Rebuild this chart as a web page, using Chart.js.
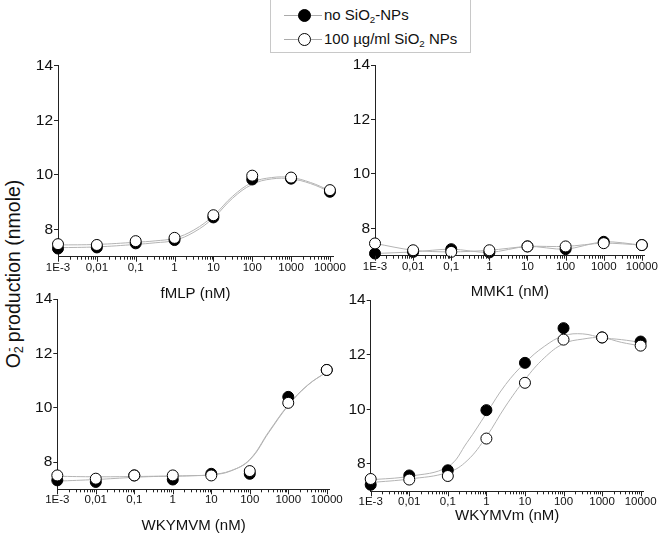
<!DOCTYPE html>
<html lang="en">
<head>
<meta charset="UTF-8">
<title>O2- production</title>
<script src="https://cdn.jsdelivr.net/npm/chart.js"></script>
<style>
  html, body { margin: 0; padding: 0; background: #fff; overflow: hidden; }
  body { width: 662px; height: 534px; position: relative; font-family: "Liberation Sans", Arial, sans-serif; color: #111; }
  canvas.panel { position: absolute; left: 0; top: 0; }
  .legend { position: absolute; left: 270px; top: -1px; width: 201px; height: 54px; border: 1px solid #c8c8c8; box-sizing: border-box; background: #fff; }
  .row { position: absolute; left: 0; width: 200px; height: 20px; font-size: 15px; line-height: 20px; }
  .row .ln { position: absolute; left: 13px; width: 38px; top: 10px; border-top: 1px solid #aaa; }
  .row .dot { position: absolute; left: 27px; top: 4px; width: 11px; height: 11px; border: 1px solid #000; border-radius: 50%; }
  .row .txt { position: absolute; left: 53px; top: 0; white-space: nowrap; }
  sub { font-size: 0.65em; vertical-align: -0.3em; line-height: 0; }
  .ytitle { position: absolute; left: 13px; top: 274px; transform: translate(-50%, -50%) rotate(-90deg); white-space: nowrap; font-size: 19.5px; }
  .ytitle sup { font-size: 0.65em; vertical-align: 0.55em; margin-left: -0.45em; line-height: 0; }
</style>
</head>
<body>
<div class="legend">
  <div class="row" style="top:5px"><span class="ln"></span><span class="dot" style="background:#000"></span><span class="txt">no SiO<sub>2</sub>-NPs</span></div>
  <div class="row" style="top:29px"><span class="ln"></span><span class="dot" style="background:#fff"></span><span class="txt">100 µg/ml SiO<sub>2</sub> NPs</span></div>
</div>
<div class="ytitle">O<sub>2</sub><sup>-</sup> production (nmole)</div>
<canvas id="c1" class="panel" width="662" height="600"></canvas>
<canvas id="c2" class="panel" width="662" height="600"></canvas>
<canvas id="c3" class="panel" width="662" height="600"></canvas>
<canvas id="c4" class="panel" width="662" height="600"></canvas>
<script>
// doses (nM) and axis labels
const doses = [0.001, 0.01, 0.1, 1, 10, 100, 1000, 10000];
const xTickLabels = ['1E-3', '0,01', '0,1', '1', '10', '100', '1000', '10000'];
const yTicks = [8, 10, 12, 14];
const fitDoses = [0.001, 0.01, 0.1, 0.316, 1, 3.16, 10, 31.6, 100, 316, 1000, 3162, 10000];

// fMLP
const fmlpNo = [7.30, 7.34, 7.49, 7.61, 8.44, 9.83, 9.86, 9.38];
const fmlpNP = [7.46, 7.43, 7.57, 7.69, 8.52, 9.97, 9.90, 9.44];
const fmlpFitNo = [7.33, 7.36, 7.45, 7.51, 7.60, 7.90, 8.42, 9.15, 9.65, 9.85, 9.85, 9.68, 9.38];
const fmlpFitNP = [7.43, 7.45, 7.53, 7.58, 7.68, 7.98, 8.50, 9.22, 9.72, 9.90, 9.90, 9.72, 9.42];
// MMK1 (lines go through the points)
const mmk1No = [7.08, 7.14, 7.24, 7.12, 7.34, 7.24, 7.51, 7.39];
const mmk1NP = [7.45, 7.20, 7.14, 7.20, 7.34, 7.34, 7.46, 7.39];
// WKYMVM
const wkymvmNo = [7.33, 7.27, 7.51, 7.36, 7.57, 7.57, 10.40, 11.39];
const wkymvmNP = [7.51, 7.39, 7.51, 7.51, 7.51, 7.67, 10.18, 11.39];
const wkymvmFitNo = [7.30, 7.36, 7.44, 7.47, 7.48, 7.50, 7.53, 7.67, 8.10, 9.13, 10.10, 10.83, 11.31];
const wkymvmFitNP = [7.48, 7.46, 7.47, 7.48, 7.49, 7.50, 7.54, 7.68, 8.08, 9.10, 10.08, 10.82, 11.33];
// WKYMVm
const wkymvdNo = [7.24, 7.58, 7.77, 9.97, 11.70, 12.97, 12.63, 12.48];
const wkymvdNP = [7.45, 7.43, 7.56, 8.93, 10.97, 12.55, 12.63, 12.33];
const wkymvdFitNo = [7.42, 7.55, 7.90, 8.79, 9.85, 10.91, 11.70, 12.30, 12.69, 12.76, 12.62, 12.55, 12.45];
const wkymvdFitNP = [7.32, 7.45, 7.69, 8.12, 9.00, 10.12, 11.09, 11.88, 12.40, 12.57, 12.62, 12.45, 12.32];

const panels = [
  { id: 'c1', title: 'fMLP (nM)', no: fmlpNo, np: fmlpNP, fitNo: fmlpFitNo, fitNP: fmlpFitNP,
    box: { l: 58, r: 333, t: 65.7, b: 256.7 }, titleGap: 37.5 },
  { id: 'c2', title: 'MMK1 (nM)', no: mmk1No, np: mmk1NP, fitNo: null, fitNP: null,
    box: { l: 375, r: 648, t: 65, b: 255.7 }, titleGap: 36.5 },
  { id: 'c3', title: 'WKYMVM (nM)', no: wkymvmNo, np: wkymvmNP, fitNo: wkymvmFitNo, fitNP: wkymvmFitNP,
    box: { l: 57.3, r: 329.8, t: 299, b: 489.3 }, titleGap: 36.5 },
  { id: 'c4', title: 'WKYMVm (nM)', no: wkymvdNo, np: wkymvdNP, fitNo: wkymvdFitNo, fitNP: wkymvdFitNP,
    box: { l: 370.7, r: 643.7, t: 300, b: 491.3 }, titleGap: 24.5 }
];

const xTickMarks = {
  id: 'xTickMarks',
  afterDraw(chart) {
    const s = chart.scales.x, ctx = chart.ctx;
    ctx.save();
    ctx.strokeStyle = '#222';
    ctx.lineWidth = 1;
    ctx.beginPath();
    s.ticks.forEach(t => {
      const x = Math.round(s.getPixelForValue(t.value)) + 0.5;
      ctx.moveTo(x, s.top);
      ctx.lineTo(x, s.top + (t.major ? 5 : 3));
    });
    ctx.stroke();
    ctx.restore();
  }
};

function pts(xs, ys) { return ys.map((y, i) => ({ x: xs[i], y: y })); }

function makeChart(p) {
  const H = 50, W = 40, CH = 600;
  const lineCol = '#b4b4b4';
  const datasets = [
    { data: pts(doses, p.np), order: 0, showLine: !p.fitNP, borderColor: lineCol, borderWidth: 1, tension: 0.3,
      pointRadius: 5.5, pointBackgroundColor: '#fff', pointBorderColor: '#000', pointBorderWidth: 1, clip: false },
    { data: pts(doses, p.no), order: 1, showLine: !p.fitNo, borderColor: lineCol, borderWidth: 1, tension: 0.3,
      pointRadius: 5.5, pointBackgroundColor: '#000', pointBorderColor: '#000', pointBorderWidth: 1, clip: false }
  ];
  if (p.fitNo) {
    datasets.push({ data: pts(fitDoses, p.fitNo), order: 2, showLine: true, pointRadius: 0, borderColor: lineCol, borderWidth: 1, tension: 0.4 });
    datasets.push({ data: pts(fitDoses, p.fitNP), order: 3, showLine: true, pointRadius: 0, borderColor: lineCol, borderWidth: 1, tension: 0.4 });
  }
  new Chart(document.getElementById(p.id), {
    type: 'scatter',
    data: { datasets: datasets },
    options: {
      responsive: false,
      animation: false,
      events: [],
      layout: { padding: { left: p.box.l - W, right: 662 - p.box.r, top: p.box.t, bottom: CH - p.box.b - H } },
      plugins: { legend: { display: false }, tooltip: { enabled: false } },
      scales: {
        x: {
          type: 'logarithmic', min: 0.001, max: 12000,
          afterFit: s => { s.height = H; },
          afterBuildTicks: s => {
            const t = [];
            for (let e = -3; e <= 4; e++) {
              for (let m = 1; m <= 9; m++) {
                const v = Number((m * Math.pow(10, e)).toPrecision(6));
                if (v <= 10000) t.push({ value: v, major: m === 1 });
              }
            }
            s.ticks = t;
          },
          grid: { display: false, drawTicks: false },
          border: { color: '#222', width: 1 },
          ticks: {
            autoSkip: false, maxRotation: 0, padding: 4, color: '#111',
            font: { family: 'Liberation Sans', size: 11.5 },
            callback: v => {
              const i = doses.findIndex(d => Math.abs(Math.log10(d) - Math.log10(v)) < 1e-6);
              return i < 0 ? '' : xTickLabels[i];
            }
          },
          title: { display: true, text: p.title, color: '#111', font: { family: 'Liberation Sans', size: 15 },
                   padding: { top: 0, bottom: H - 9 - p.titleGap } }
        },
        y: {
          min: 7, max: 14,
          afterFit: s => { s.width = W; },
          afterBuildTicks: s => { s.ticks = yTicks.map(v => ({ value: v })); },
          grid: { drawOnChartArea: false, tickLength: 4, tickColor: '#222' },
          border: { color: '#222', width: 1 },
          ticks: { padding: 1, color: '#111', font: { family: 'Liberation Sans', size: 15.5 } }
        }
      }
    },
    plugins: [xTickMarks]
  });
}

panels.forEach(makeChart);
</script>
</body>
</html>
